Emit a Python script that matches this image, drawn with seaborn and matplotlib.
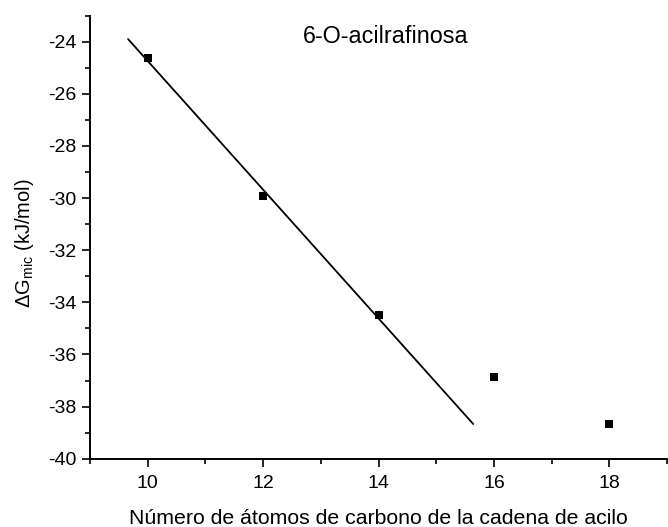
import numpy as np
import pandas as pd
import matplotlib
matplotlib.use("Agg")
import matplotlib.pyplot as plt
from matplotlib.ticker import MultipleLocator
import seaborn as sns

# Chain length of the acyl group vs micellization free energy
carbon_atoms = [10, 12, 14, 16, 18]
delta_g_mic = [-24.62, -29.91, -34.50, -36.88, -38.68]

# Linear fit over the first three homologues, drawn across this x span
n_fit_points = 3
fit_x_span = [9.66, 15.64]

title_text = "6-O-acilrafinosa"
x_label = "Número de átomos de carbono de la cadena de acilo"
y_label = r"$\Delta$G$_{\mathrm{mic}}$ (kJ/mol)"

sns.set_theme(style="ticks")
plt.rcParams["font.family"] = ["Liberation Sans", "DejaVu Sans"]
plt.rcParams["mathtext.fontset"] = "custom"
plt.rcParams["mathtext.rm"] = "Liberation Sans"
plt.rcParams["mathtext.it"] = "Liberation Sans:italic"
plt.rcParams["axes.unicode_minus"] = False

df = pd.DataFrame({"n": carbon_atoms, "dg": delta_g_mic})
slope, intercept = np.polyfit(carbon_atoms[:n_fit_points], delta_g_mic[:n_fit_points], 1)
fit_df = pd.DataFrame({"n": fit_x_span,
                       "dg": [slope * x + intercept for x in fit_x_span]})

fig = plt.figure(figsize=(6.68, 5.27), dpi=100)
ax = fig.add_axes([0.1347, 0.1296, 0.864, 0.8406])

sns.lineplot(data=fit_df, x="n", y="dg", ax=ax, color="black", linewidth=1.3)
sns.scatterplot(data=df, x="n", y="dg", ax=ax, marker="s", s=38,
                color="black", edgecolor="black", linewidth=0, zorder=3)

ax.set_xlim(9, 19)
ax.set_ylim(-40, -23)
ax.xaxis.set_major_locator(MultipleLocator(2))
ax.xaxis.set_minor_locator(MultipleLocator(1))
ax.yaxis.set_major_locator(MultipleLocator(2))
ax.yaxis.set_minor_locator(MultipleLocator(1))
ax.set_xticks([10, 12, 14, 16, 18])

for side in ("top", "right"):
    ax.spines[side].set_visible(False)
for side in ("left", "bottom"):
    ax.spines[side].set_linewidth(1.4)
    ax.spines[side].set_color("black")

ax.tick_params(which="major", direction="out", length=6, width=1.2,
               labelsize=14, color="black", labelcolor="black")
ax.tick_params(which="minor", direction="out", length=3.5, width=1.2, color="black")
ax.tick_params(axis="y", which="major", pad=4)
ax.tick_params(axis="x", which="major", pad=6)

ax.set_xlabel(x_label, fontsize=15.3, color="black", labelpad=12)
ax.set_ylabel(y_label, fontsize=14.5, color="black")
ax.yaxis.set_label_coords(-0.094, 0.486)

ax.text(0.513, 0.954, title_text, transform=ax.transAxes, ha="center",
        va="center", fontsize=16.8, color="black")

fig.savefig("out.png", dpi=100)
